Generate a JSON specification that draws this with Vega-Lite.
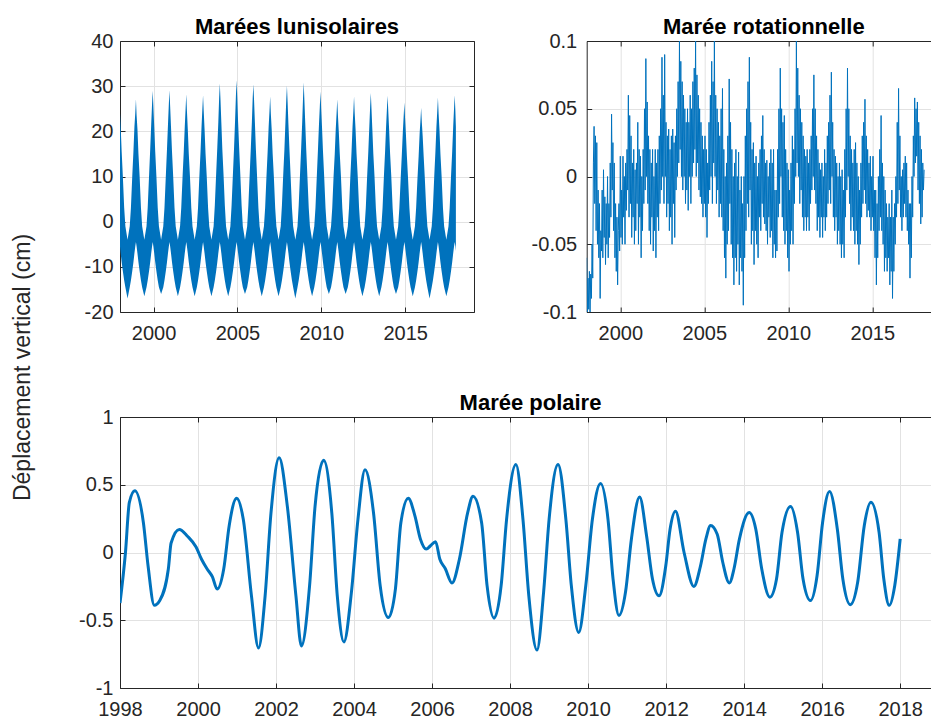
{
"$schema": "https://vega.github.io/schema/vega-lite/v6.json",
"background": "white",
"padding": {"left": 11, "top": 16, "right": 0, "bottom": 0},
"title": {"text": "Déplacement vertical (cm)", "orient": "left", "anchor": "middle", "fontSize": 23, "fontWeight": "normal", "color": "#262626", "offset": 44},
"config": {
 "font": "Liberation Sans",
 "view": {"stroke": null},
 "axis": {"labelFont": "Liberation Sans", "labelFontSize": 20, "labelColor": "#262626", "domainColor": "#262626", "domainWidth": 1, "tickColor": "#262626", "tickWidth": 1, "tickSize": -5, "gridColor": "#e2e2e2", "gridWidth": 1, "labelFlush": false, "labelOverlap": false},
 "axisX": {"labelPadding": 16},
 "axisY": {"labelPadding": 12},
 "title": {"font": "Liberation Sans", "fontSize": 22, "fontWeight": "bold", "color": "#000000", "offset": -8}
},
"datasets": {
"luni": [
{"t":1998.00,"lo":-5.5,"hi":24},{"t":1998.04,"lo":-7,"hi":21},{"t":1998.10,"lo":-9,"hi":15.5},{"t":1998.17,"lo":-11,"hi":10},{"t":1998.25,"lo":-13,"hi":3},{"t":1998.32,"lo":-14.5,"hi":-1},{"t":1998.45,"lo":-17,"hi":-4},
{"t":1998.58,"lo":-14.5,"hi":-1},{"t":1998.65,"lo":-13,"hi":3},{"t":1998.73,"lo":-11,"hi":10},{"t":1998.80,"lo":-9,"hi":15.5},{"t":1998.86,"lo":-7,"hi":21},{"t":1998.91,"lo":-5.5,"hi":24},{"t":1998.95,"lo":-4.5,"hi":27.1},{"t":1998.99,"lo":-5.5,"hi":23.5},{"t":1999.04,"lo":-7,"hi":20.5},{"t":1999.10,"lo":-9,"hi":15},{"t":1999.17,"lo":-11,"hi":10},{"t":1999.25,"lo":-13,"hi":3},{"t":1999.32,"lo":-14.5,"hi":-1},{"t":1999.45,"lo":-16.5,"hi":-4},
{"t":1999.58,"lo":-14.5,"hi":-1},{"t":1999.65,"lo":-13,"hi":3},{"t":1999.73,"lo":-11,"hi":10},{"t":1999.80,"lo":-9,"hi":16},{"t":1999.86,"lo":-7,"hi":21.5},{"t":1999.91,"lo":-5.5,"hi":26},{"t":1999.95,"lo":-4.5,"hi":29},{"t":1999.99,"lo":-5.5,"hi":25.5},{"t":2000.04,"lo":-7,"hi":21},{"t":2000.10,"lo":-9,"hi":15.5},{"t":2000.17,"lo":-11,"hi":10},{"t":2000.25,"lo":-13,"hi":3},{"t":2000.32,"lo":-14.5,"hi":-1},{"t":2000.45,"lo":-16,"hi":-4},
{"t":2000.58,"lo":-14.5,"hi":-1},{"t":2000.65,"lo":-13,"hi":3},{"t":2000.73,"lo":-11,"hi":10},{"t":2000.80,"lo":-9,"hi":16},{"t":2000.86,"lo":-7,"hi":21.5},{"t":2000.91,"lo":-5.5,"hi":26},{"t":2000.95,"lo":-4.5,"hi":29.1},{"t":2000.99,"lo":-5.5,"hi":25.5},{"t":2001.04,"lo":-7,"hi":21},{"t":2001.10,"lo":-9,"hi":15.5},{"t":2001.17,"lo":-11,"hi":10},{"t":2001.25,"lo":-13,"hi":3},{"t":2001.32,"lo":-14.5,"hi":-1},{"t":2001.45,"lo":-16.5,"hi":-4},
{"t":2001.58,"lo":-14.5,"hi":-1},{"t":2001.65,"lo":-13,"hi":3},{"t":2001.73,"lo":-11,"hi":10},{"t":2001.80,"lo":-9,"hi":15.5},{"t":2001.86,"lo":-7,"hi":21},{"t":2001.91,"lo":-5.5,"hi":25},{"t":2001.95,"lo":-4.5,"hi":28.2},{"t":2001.99,"lo":-5.5,"hi":24.5},{"t":2002.04,"lo":-7,"hi":20.5},{"t":2002.10,"lo":-9,"hi":15},{"t":2002.17,"lo":-11,"hi":10},{"t":2002.25,"lo":-13,"hi":3},{"t":2002.32,"lo":-14.5,"hi":-1},{"t":2002.45,"lo":-16.5,"hi":-4},
{"t":2002.58,"lo":-14.5,"hi":-1},{"t":2002.65,"lo":-13,"hi":3},{"t":2002.73,"lo":-11,"hi":10},{"t":2002.80,"lo":-9,"hi":15.5},{"t":2002.86,"lo":-7,"hi":21},{"t":2002.91,"lo":-5.5,"hi":25},{"t":2002.95,"lo":-4.5,"hi":28},{"t":2002.99,"lo":-5.5,"hi":24.5},{"t":2003.04,"lo":-7,"hi":20.5},{"t":2003.10,"lo":-9,"hi":15},{"t":2003.17,"lo":-11,"hi":10},{"t":2003.25,"lo":-13,"hi":3},{"t":2003.32,"lo":-14.5,"hi":-1},{"t":2003.45,"lo":-16.5,"hi":-4},
{"t":2003.58,"lo":-14.5,"hi":-1},{"t":2003.65,"lo":-13,"hi":3.5},{"t":2003.73,"lo":-11,"hi":10.5},{"t":2003.80,"lo":-9,"hi":16.5},{"t":2003.86,"lo":-7,"hi":22},{"t":2003.91,"lo":-5.5,"hi":27.5},{"t":2003.95,"lo":-4.5,"hi":30.6},{"t":2003.99,"lo":-5.5,"hi":27},{"t":2004.04,"lo":-7,"hi":22},{"t":2004.10,"lo":-9,"hi":16},{"t":2004.17,"lo":-11,"hi":10.5},{"t":2004.25,"lo":-13,"hi":3.5},{"t":2004.32,"lo":-14.5,"hi":-1},{"t":2004.45,"lo":-16.5,"hi":-4},
{"t":2004.58,"lo":-14.5,"hi":-1},{"t":2004.65,"lo":-13,"hi":3.5},{"t":2004.73,"lo":-11,"hi":10.5},{"t":2004.80,"lo":-9,"hi":16.5},{"t":2004.86,"lo":-7,"hi":22.5},{"t":2004.91,"lo":-5.5,"hi":28},{"t":2004.95,"lo":-4.5,"hi":31.3},{"t":2004.99,"lo":-5.5,"hi":27.5},{"t":2005.04,"lo":-7,"hi":22},{"t":2005.10,"lo":-9,"hi":16.5},{"t":2005.17,"lo":-11,"hi":10.5},{"t":2005.25,"lo":-13,"hi":3.5},{"t":2005.32,"lo":-14.5,"hi":-1},{"t":2005.45,"lo":-16,"hi":-4},
{"t":2005.58,"lo":-14.5,"hi":-1},{"t":2005.65,"lo":-13,"hi":3.5},{"t":2005.73,"lo":-11,"hi":10.5},{"t":2005.80,"lo":-9,"hi":16.5},{"t":2005.86,"lo":-7,"hi":22},{"t":2005.91,"lo":-5.5,"hi":27.5},{"t":2005.95,"lo":-4.5,"hi":30.4},{"t":2005.99,"lo":-5.5,"hi":27},{"t":2006.04,"lo":-7,"hi":22},{"t":2006.10,"lo":-9,"hi":16},{"t":2006.17,"lo":-11,"hi":10},{"t":2006.25,"lo":-13,"hi":3},{"t":2006.32,"lo":-14.5,"hi":-1},{"t":2006.45,"lo":-16.5,"hi":-4},
{"t":2006.58,"lo":-14.5,"hi":-1},{"t":2006.65,"lo":-13,"hi":3},{"t":2006.73,"lo":-11,"hi":10},{"t":2006.80,"lo":-9,"hi":15.5},{"t":2006.86,"lo":-7,"hi":21},{"t":2006.91,"lo":-5.5,"hi":24.5},{"t":2006.95,"lo":-4.5,"hi":27.7},{"t":2006.99,"lo":-5.5,"hi":24},{"t":2007.04,"lo":-7,"hi":20.5},{"t":2007.10,"lo":-9,"hi":15},{"t":2007.17,"lo":-11,"hi":10},{"t":2007.25,"lo":-13,"hi":3},{"t":2007.32,"lo":-14.5,"hi":-1},{"t":2007.45,"lo":-16.5,"hi":-4},
{"t":2007.58,"lo":-14.5,"hi":-1},{"t":2007.65,"lo":-13,"hi":3.5},{"t":2007.73,"lo":-11,"hi":10.5},{"t":2007.80,"lo":-9,"hi":16},{"t":2007.86,"lo":-7,"hi":22},{"t":2007.91,"lo":-5.5,"hi":27},{"t":2007.95,"lo":-4.5,"hi":30.1},{"t":2007.99,"lo":-5.5,"hi":26.5},{"t":2008.04,"lo":-7,"hi":21.5},{"t":2008.10,"lo":-9,"hi":16},{"t":2008.17,"lo":-11,"hi":10},{"t":2008.25,"lo":-13,"hi":3},{"t":2008.32,"lo":-14.5,"hi":-1},{"t":2008.45,"lo":-17,"hi":-4},
{"t":2008.58,"lo":-14.5,"hi":-1},{"t":2008.65,"lo":-13,"hi":3.5},{"t":2008.73,"lo":-11,"hi":10.5},{"t":2008.80,"lo":-9,"hi":16.5},{"t":2008.86,"lo":-7,"hi":22},{"t":2008.91,"lo":-5.5,"hi":27.5},{"t":2008.95,"lo":-4.5,"hi":30.8},{"t":2008.99,"lo":-5.5,"hi":27},{"t":2009.04,"lo":-7,"hi":22},{"t":2009.10,"lo":-9,"hi":16},{"t":2009.17,"lo":-11,"hi":10},{"t":2009.25,"lo":-13,"hi":3},{"t":2009.32,"lo":-14.5,"hi":-1},{"t":2009.45,"lo":-16.5,"hi":-4},
{"t":2009.58,"lo":-14.5,"hi":-1},{"t":2009.65,"lo":-13,"hi":3},{"t":2009.73,"lo":-11,"hi":10},{"t":2009.80,"lo":-9,"hi":16},{"t":2009.86,"lo":-7,"hi":21.5},{"t":2009.91,"lo":-5.5,"hi":25.5},{"t":2009.95,"lo":-4.5,"hi":28.8},{"t":2009.99,"lo":-5.5,"hi":25},{"t":2010.04,"lo":-7,"hi":21},{"t":2010.10,"lo":-9,"hi":15.5},{"t":2010.17,"lo":-11,"hi":10},{"t":2010.25,"lo":-13,"hi":3},{"t":2010.32,"lo":-14.5,"hi":-1},{"t":2010.45,"lo":-16,"hi":-4},
{"t":2010.58,"lo":-14.5,"hi":-1},{"t":2010.65,"lo":-13,"hi":3},{"t":2010.73,"lo":-11,"hi":10},{"t":2010.80,"lo":-9,"hi":15},{"t":2010.86,"lo":-7,"hi":20.5},{"t":2010.91,"lo":-5.5,"hi":24},{"t":2010.95,"lo":-4.5,"hi":27.1},{"t":2010.99,"lo":-5.5,"hi":23.5},{"t":2011.04,"lo":-7,"hi":20},{"t":2011.10,"lo":-9,"hi":15},{"t":2011.17,"lo":-11,"hi":10},{"t":2011.25,"lo":-13,"hi":3},{"t":2011.32,"lo":-14.5,"hi":-1},{"t":2011.45,"lo":-16,"hi":-4},
{"t":2011.58,"lo":-14.5,"hi":-1},{"t":2011.65,"lo":-13,"hi":3},{"t":2011.73,"lo":-11,"hi":10},{"t":2011.80,"lo":-9,"hi":15.5},{"t":2011.86,"lo":-7,"hi":21},{"t":2011.91,"lo":-5.5,"hi":24.5},{"t":2011.95,"lo":-4.5,"hi":27.7},{"t":2011.99,"lo":-5.5,"hi":24},{"t":2012.04,"lo":-7,"hi":20.5},{"t":2012.10,"lo":-9,"hi":15},{"t":2012.17,"lo":-11,"hi":10},{"t":2012.25,"lo":-13,"hi":3},{"t":2012.32,"lo":-14.5,"hi":-1},{"t":2012.45,"lo":-16.5,"hi":-4},
{"t":2012.58,"lo":-14.5,"hi":-1},{"t":2012.65,"lo":-13,"hi":3},{"t":2012.73,"lo":-11,"hi":10},{"t":2012.80,"lo":-9,"hi":15.5},{"t":2012.86,"lo":-7,"hi":21},{"t":2012.91,"lo":-5.5,"hi":25.5},{"t":2012.95,"lo":-4.5,"hi":28.5},{"t":2012.99,"lo":-5.5,"hi":25},{"t":2013.04,"lo":-7,"hi":20.5},{"t":2013.10,"lo":-9,"hi":15},{"t":2013.17,"lo":-11,"hi":10},{"t":2013.25,"lo":-13,"hi":3},{"t":2013.32,"lo":-14.5,"hi":-1},{"t":2013.45,"lo":-16.5,"hi":-4},
{"t":2013.58,"lo":-14.5,"hi":-1},{"t":2013.65,"lo":-13,"hi":3},{"t":2013.73,"lo":-11,"hi":10},{"t":2013.80,"lo":-9,"hi":15.5},{"t":2013.86,"lo":-7,"hi":21},{"t":2013.91,"lo":-5.5,"hi":25},{"t":2013.95,"lo":-4.5,"hi":27.9},{"t":2013.99,"lo":-5.5,"hi":24.5},{"t":2014.04,"lo":-7,"hi":20.5},{"t":2014.10,"lo":-9,"hi":15},{"t":2014.17,"lo":-11,"hi":10},{"t":2014.25,"lo":-13,"hi":3},{"t":2014.32,"lo":-14.5,"hi":-1},{"t":2014.45,"lo":-16,"hi":-4},
{"t":2014.58,"lo":-14.5,"hi":-1},{"t":2014.65,"lo":-13,"hi":3},{"t":2014.73,"lo":-11,"hi":9.5},{"t":2014.80,"lo":-9,"hi":15},{"t":2014.86,"lo":-7,"hi":20},{"t":2014.91,"lo":-5.5,"hi":23.5},{"t":2014.95,"lo":-4.5,"hi":26.4},{"t":2014.99,"lo":-5.5,"hi":23},{"t":2015.04,"lo":-7,"hi":19.5},{"t":2015.10,"lo":-9,"hi":14.5},{"t":2015.17,"lo":-11,"hi":9.5},{"t":2015.25,"lo":-13,"hi":3},{"t":2015.32,"lo":-14.5,"hi":-1},{"t":2015.45,"lo":-16.5,"hi":-4},
{"t":2015.58,"lo":-14.5,"hi":-1},{"t":2015.65,"lo":-13,"hi":3},{"t":2015.73,"lo":-11,"hi":9.5},{"t":2015.80,"lo":-9,"hi":14.5},{"t":2015.86,"lo":-7,"hi":19.5},{"t":2015.91,"lo":-5.5,"hi":22.5},{"t":2015.95,"lo":-4.5,"hi":25.2},{"t":2015.99,"lo":-5.5,"hi":22},{"t":2016.04,"lo":-7,"hi":19},{"t":2016.10,"lo":-9,"hi":14.5},{"t":2016.17,"lo":-11,"hi":9.5},{"t":2016.25,"lo":-13,"hi":3},{"t":2016.32,"lo":-14.5,"hi":-1},{"t":2016.45,"lo":-17,"hi":-4},
{"t":2016.58,"lo":-14.5,"hi":-1},{"t":2016.65,"lo":-13,"hi":3},{"t":2016.73,"lo":-11,"hi":10},{"t":2016.80,"lo":-9,"hi":15.5},{"t":2016.86,"lo":-7,"hi":21},{"t":2016.91,"lo":-5.5,"hi":24.5},{"t":2016.95,"lo":-4.5,"hi":27.5},{"t":2016.99,"lo":-5.5,"hi":24},{"t":2017.04,"lo":-7,"hi":20.5},{"t":2017.10,"lo":-9,"hi":15},{"t":2017.17,"lo":-11,"hi":10},{"t":2017.25,"lo":-13,"hi":3},{"t":2017.32,"lo":-14.5,"hi":-1},{"t":2017.45,"lo":-16.5,"hi":-4},
{"t":2017.58,"lo":-14.5,"hi":-1},{"t":2017.65,"lo":-13,"hi":3},{"t":2017.73,"lo":-11,"hi":10},{"t":2017.80,"lo":-9,"hi":15.5},{"t":2017.86,"lo":-7,"hi":21},{"t":2017.91,"lo":-5.5,"hi":25},{"t":2017.95,"lo":-4.5,"hi":28},{"t":2017.99,"lo":-5.5,"hi":24.5},{"t":2018.02,"lo":-6.5,"hi":21}
],
"rot": [
{"t":1998.00,"v":-0.06},{"t":1998.04,"v":-0.1},{"t":1998.08,"v":-0.075},{"t":1998.12,"v":-0.098},{"t":1998.16,"v":-0.07},{"t":1998.20,"v":-0.1},{"t":1998.24,"v":-0.072},{"t":1998.28,"v":-0.09},{"t":1998.32,"v":-0.05},{"t":1998.36,"v":-0.075},{"t":1998.40,"v":0.01},{"t":1998.44,"v":0.037},{"t":1998.48,"v":-0.02},{"t":1998.52,"v":0.03},{"t":1998.56,"v":-0.04},{"t":1998.60,"v":0.025},{"t":1998.64,"v":-0.05},{"t":1998.68,"v":-0.01},{"t":1998.72,"v":-0.06},{"t":1998.76,"v":-0.02},{"t":1998.80,"v":-0.09},{"t":1998.84,"v":-0.04},{"t":1998.88,"v":-0.055},{"t":1998.92,"v":-0.01},{"t":1998.96,"v":-0.06},
{"t":1999.00,"v":0.005},{"t":1999.04,"v":-0.045},{"t":1999.08,"v":-0.015},{"t":1999.12,"v":-0.065},{"t":1999.16,"v":-0.02},{"t":1999.20,"v":-0.05},{"t":1999.24,"v":0.0},{"t":1999.28,"v":-0.06},{"t":1999.32,"v":-0.02},{"t":1999.36,"v":-0.045},{"t":1999.40,"v":0.01},{"t":1999.44,"v":-0.03},{"t":1999.48,"v":0.046},{"t":1999.52,"v":-0.01},{"t":1999.56,"v":0.025},{"t":1999.60,"v":-0.04},{"t":1999.64,"v":0.01},{"t":1999.68,"v":-0.06},{"t":1999.72,"v":-0.02},{"t":1999.76,"v":-0.07},{"t":1999.80,"v":-0.03},{"t":1999.84,"v":-0.08},{"t":1999.88,"v":-0.04},{"t":1999.92,"v":-0.02},{"t":1999.96,"v":-0.055},
{"t":2000.00,"v":0.015},{"t":2000.04,"v":-0.045},{"t":2000.08,"v":-0.01},{"t":2000.12,"v":-0.05},{"t":2000.16,"v":0.015},{"t":2000.20,"v":-0.03},{"t":2000.24,"v":0.0},{"t":2000.28,"v":-0.05},{"t":2000.32,"v":0.01},{"t":2000.36,"v":-0.025},{"t":2000.40,"v":0.02},{"t":2000.44,"v":-0.01},{"t":2000.48,"v":0.06},{"t":2000.52,"v":-0.03},{"t":2000.56,"v":0.045},{"t":2000.60,"v":-0.02},{"t":2000.64,"v":0.03},{"t":2000.68,"v":-0.045},{"t":2000.72,"v":0.01},{"t":2000.76,"v":-0.03},{"t":2000.80,"v":0.02},{"t":2000.84,"v":-0.05},{"t":2000.88,"v":0.005},{"t":2000.92,"v":-0.04},{"t":2000.96,"v":0.01},
{"t":2001.00,"v":-0.02},{"t":2001.04,"v":0.04},{"t":2001.08,"v":-0.05},{"t":2001.12,"v":0.02},{"t":2001.16,"v":-0.03},{"t":2001.20,"v":0.015},{"t":2001.24,"v":-0.06},{"t":2001.28,"v":0.0},{"t":2001.32,"v":-0.04},{"t":2001.36,"v":0.02},{"t":2001.40,"v":-0.02},{"t":2001.44,"v":0.05},{"t":2001.48,"v":-0.01},{"t":2001.52,"v":0.087},{"t":2001.56,"v":0.0},{"t":2001.60,"v":0.055},{"t":2001.64,"v":-0.02},{"t":2001.68,"v":0.03},{"t":2001.72,"v":-0.04},{"t":2001.76,"v":0.02},{"t":2001.80,"v":-0.05},{"t":2001.84,"v":0.01},{"t":2001.88,"v":-0.03},{"t":2001.92,"v":0.02},{"t":2001.96,"v":-0.055},
{"t":2002.00,"v":0.0},{"t":2002.04,"v":-0.04},{"t":2002.08,"v":0.02},{"t":2002.12,"v":-0.06},{"t":2002.16,"v":0.01},{"t":2002.20,"v":-0.03},{"t":2002.24,"v":0.02},{"t":2002.28,"v":-0.04},{"t":2002.32,"v":0.03},{"t":2002.36,"v":-0.02},{"t":2002.40,"v":0.05},{"t":2002.44,"v":-0.01},{"t":2002.48,"v":0.088},{"t":2002.52,"v":0.0},{"t":2002.56,"v":0.06},{"t":2002.60,"v":-0.02},{"t":2002.64,"v":0.09},{"t":2002.68,"v":0.0},{"t":2002.72,"v":0.04},{"t":2002.76,"v":-0.03},{"t":2002.80,"v":0.03},{"t":2002.84,"v":-0.02},{"t":2002.88,"v":0.035},{"t":2002.92,"v":-0.04},{"t":2002.96,"v":0.02},
{"t":2003.00,"v":-0.03},{"t":2003.04,"v":0.03},{"t":2003.08,"v":-0.05},{"t":2003.12,"v":0.035},{"t":2003.16,"v":-0.02},{"t":2003.20,"v":0.025},{"t":2003.24,"v":-0.045},{"t":2003.28,"v":0.03},{"t":2003.32,"v":-0.01},{"t":2003.36,"v":0.05},{"t":2003.40,"v":0.0},{"t":2003.44,"v":0.07},{"t":2003.48,"v":0.01},{"t":2003.52,"v":0.1},{"t":2003.56,"v":0.02},{"t":2003.60,"v":0.085},{"t":2003.64,"v":0.0},{"t":2003.68,"v":0.07},{"t":2003.72,"v":-0.01},{"t":2003.76,"v":0.06},{"t":2003.80,"v":0.0},{"t":2003.84,"v":0.05},{"t":2003.88,"v":-0.02},{"t":2003.92,"v":0.04},{"t":2003.96,"v":-0.01},
{"t":2004.00,"v":0.05},{"t":2004.04,"v":-0.025},{"t":2004.08,"v":0.04},{"t":2004.12,"v":0.0},{"t":2004.16,"v":0.06},{"t":2004.20,"v":-0.02},{"t":2004.24,"v":0.05},{"t":2004.28,"v":0.0},{"t":2004.32,"v":0.07},{"t":2004.36,"v":0.01},{"t":2004.40,"v":0.08},{"t":2004.44,"v":0.02},{"t":2004.48,"v":0.1},{"t":2004.52,"v":0.0},{"t":2004.56,"v":0.075},{"t":2004.60,"v":0.01},{"t":2004.64,"v":0.06},{"t":2004.68,"v":-0.01},{"t":2004.72,"v":0.05},{"t":2004.76,"v":-0.015},{"t":2004.80,"v":0.04},{"t":2004.84,"v":-0.02},{"t":2004.88,"v":0.03},{"t":2004.92,"v":-0.03},{"t":2004.96,"v":0.02},
{"t":2005.00,"v":-0.02},{"t":2005.04,"v":0.03},{"t":2005.08,"v":-0.03},{"t":2005.12,"v":0.02},{"t":2005.16,"v":-0.045},{"t":2005.20,"v":0.01},{"t":2005.24,"v":-0.02},{"t":2005.28,"v":0.04},{"t":2005.32,"v":-0.01},{"t":2005.36,"v":0.06},{"t":2005.40,"v":0.0},{"t":2005.44,"v":0.085},{"t":2005.48,"v":-0.02},{"t":2005.52,"v":0.07},{"t":2005.56,"v":0.01},{"t":2005.60,"v":0.1},{"t":2005.64,"v":0.0},{"t":2005.68,"v":0.06},{"t":2005.72,"v":-0.02},{"t":2005.76,"v":0.05},{"t":2005.80,"v":-0.01},{"t":2005.84,"v":0.04},{"t":2005.88,"v":-0.03},{"t":2005.92,"v":0.03},{"t":2005.96,"v":-0.02},
{"t":2006.00,"v":0.05},{"t":2006.04,"v":-0.03},{"t":2006.08,"v":0.065},{"t":2006.12,"v":-0.04},{"t":2006.16,"v":0.02},{"t":2006.20,"v":-0.06},{"t":2006.24,"v":0.0},{"t":2006.28,"v":-0.075},{"t":2006.32,"v":0.01},{"t":2006.36,"v":-0.05},{"t":2006.40,"v":0.03},{"t":2006.44,"v":-0.04},{"t":2006.48,"v":0.072},{"t":2006.52,"v":-0.02},{"t":2006.56,"v":0.04},{"t":2006.60,"v":-0.05},{"t":2006.64,"v":0.02},{"t":2006.68,"v":-0.06},{"t":2006.72,"v":0.0},{"t":2006.76,"v":-0.08},{"t":2006.80,"v":0.01},{"t":2006.84,"v":-0.06},{"t":2006.88,"v":0.02},{"t":2006.92,"v":-0.07},{"t":2006.96,"v":0.0},
{"t":2007.00,"v":-0.05},{"t":2007.04,"v":0.018},{"t":2007.08,"v":-0.08},{"t":2007.12,"v":-0.01},{"t":2007.16,"v":-0.06},{"t":2007.20,"v":0.0},{"t":2007.24,"v":-0.07},{"t":2007.28,"v":-0.02},{"t":2007.32,"v":-0.095},{"t":2007.36,"v":0.0},{"t":2007.40,"v":-0.06},{"t":2007.44,"v":0.03},{"t":2007.48,"v":-0.04},{"t":2007.52,"v":0.05},{"t":2007.56,"v":-0.02},{"t":2007.60,"v":0.07},{"t":2007.64,"v":-0.03},{"t":2007.68,"v":0.088},{"t":2007.72,"v":-0.01},{"t":2007.76,"v":0.04},{"t":2007.80,"v":-0.05},{"t":2007.84,"v":0.02},{"t":2007.88,"v":-0.04},{"t":2007.92,"v":0.025},{"t":2007.96,"v":-0.065},
{"t":2008.00,"v":0.01},{"t":2008.04,"v":-0.04},{"t":2008.08,"v":0.015},{"t":2008.12,"v":-0.05},{"t":2008.16,"v":0.0},{"t":2008.20,"v":-0.06},{"t":2008.24,"v":0.01},{"t":2008.28,"v":-0.03},{"t":2008.32,"v":0.02},{"t":2008.36,"v":-0.04},{"t":2008.40,"v":0.03},{"t":2008.44,"v":-0.02},{"t":2008.48,"v":0.045},{"t":2008.52,"v":-0.03},{"t":2008.56,"v":0.02},{"t":2008.60,"v":-0.035},{"t":2008.64,"v":0.01},{"t":2008.68,"v":-0.04},{"t":2008.72,"v":0.012},{"t":2008.76,"v":-0.05},{"t":2008.80,"v":0.0},{"t":2008.84,"v":-0.03},{"t":2008.88,"v":0.01},{"t":2008.92,"v":-0.045},{"t":2008.96,"v":0.02},
{"t":2009.00,"v":-0.04},{"t":2009.04,"v":0.01},{"t":2009.08,"v":-0.06},{"t":2009.12,"v":0.02},{"t":2009.16,"v":-0.05},{"t":2009.20,"v":-0.01},{"t":2009.24,"v":-0.06},{"t":2009.28,"v":-0.01},{"t":2009.32,"v":-0.055},{"t":2009.36,"v":0.02},{"t":2009.40,"v":-0.03},{"t":2009.44,"v":0.05},{"t":2009.48,"v":-0.02},{"t":2009.52,"v":0.08},{"t":2009.56,"v":0.0},{"t":2009.60,"v":0.05},{"t":2009.64,"v":-0.03},{"t":2009.68,"v":0.04},{"t":2009.72,"v":-0.04},{"t":2009.76,"v":0.045},{"t":2009.80,"v":-0.05},{"t":2009.84,"v":0.02},{"t":2009.88,"v":-0.04},{"t":2009.92,"v":0.01},{"t":2009.96,"v":-0.06},
{"t":2010.00,"v":0.005},{"t":2010.04,"v":-0.07},{"t":2010.08,"v":-0.01},{"t":2010.12,"v":-0.05},{"t":2010.16,"v":0.01},{"t":2010.20,"v":-0.04},{"t":2010.24,"v":0.03},{"t":2010.28,"v":-0.05},{"t":2010.32,"v":0.02},{"t":2010.36,"v":-0.02},{"t":2010.40,"v":0.05},{"t":2010.44,"v":0.0},{"t":2010.48,"v":0.1},{"t":2010.52,"v":0.01},{"t":2010.56,"v":0.08},{"t":2010.60,"v":0.0},{"t":2010.64,"v":0.06},{"t":2010.68,"v":-0.02},{"t":2010.72,"v":0.05},{"t":2010.76,"v":-0.01},{"t":2010.80,"v":0.04},{"t":2010.84,"v":-0.03},{"t":2010.88,"v":0.03},{"t":2010.92,"v":-0.04},{"t":2010.96,"v":0.02},
{"t":2011.00,"v":-0.03},{"t":2011.04,"v":0.015},{"t":2011.08,"v":-0.04},{"t":2011.12,"v":0.02},{"t":2011.16,"v":-0.03},{"t":2011.20,"v":0.01},{"t":2011.24,"v":-0.04},{"t":2011.28,"v":0.02},{"t":2011.32,"v":-0.02},{"t":2011.36,"v":0.03},{"t":2011.40,"v":-0.01},{"t":2011.44,"v":0.05},{"t":2011.48,"v":0.0},{"t":2011.52,"v":0.075},{"t":2011.56,"v":-0.01},{"t":2011.60,"v":0.05},{"t":2011.64,"v":-0.02},{"t":2011.68,"v":0.03},{"t":2011.72,"v":-0.04},{"t":2011.76,"v":0.02},{"t":2011.80,"v":-0.03},{"t":2011.84,"v":0.01},{"t":2011.88,"v":-0.045},{"t":2011.92,"v":0.005},{"t":2011.96,"v":-0.03},
{"t":2012.00,"v":0.01},{"t":2012.04,"v":-0.045},{"t":2012.08,"v":0.0},{"t":2012.12,"v":-0.03},{"t":2012.16,"v":0.02},{"t":2012.20,"v":-0.04},{"t":2012.24,"v":0.01},{"t":2012.28,"v":-0.03},{"t":2012.32,"v":0.03},{"t":2012.36,"v":-0.02},{"t":2012.40,"v":0.04},{"t":2012.44,"v":-0.01},{"t":2012.48,"v":0.06},{"t":2012.52,"v":-0.02},{"t":2012.56,"v":0.077},{"t":2012.60,"v":0.0},{"t":2012.64,"v":0.04},{"t":2012.68,"v":-0.03},{"t":2012.72,"v":0.02},{"t":2012.76,"v":-0.04},{"t":2012.80,"v":0.015},{"t":2012.84,"v":-0.03},{"t":2012.88,"v":0.01},{"t":2012.92,"v":-0.05},{"t":2012.96,"v":0.0},
{"t":2013.00,"v":-0.04},{"t":2013.04,"v":0.01},{"t":2013.08,"v":-0.05},{"t":2013.12,"v":0.0},{"t":2013.16,"v":-0.06},{"t":2013.20,"v":0.005},{"t":2013.24,"v":-0.05},{"t":2013.28,"v":-0.01},{"t":2013.32,"v":-0.06},{"t":2013.36,"v":0.02},{"t":2013.40,"v":-0.03},{"t":2013.44,"v":0.05},{"t":2013.48,"v":-0.01},{"t":2013.52,"v":0.08},{"t":2013.56,"v":0.0},{"t":2013.60,"v":0.05},{"t":2013.64,"v":-0.02},{"t":2013.68,"v":0.03},{"t":2013.72,"v":-0.04},{"t":2013.76,"v":0.02},{"t":2013.80,"v":-0.03},{"t":2013.84,"v":0.01},{"t":2013.88,"v":-0.04},{"t":2013.92,"v":0.02},{"t":2013.96,"v":-0.05},
{"t":2014.00,"v":0.025},{"t":2014.04,"v":-0.04},{"t":2014.08,"v":0.01},{"t":2014.12,"v":-0.05},{"t":2014.16,"v":0.0},{"t":2014.20,"v":-0.065},{"t":2014.24,"v":-0.01},{"t":2014.28,"v":-0.05},{"t":2014.32,"v":0.01},{"t":2014.36,"v":-0.03},{"t":2014.40,"v":0.03},{"t":2014.44,"v":-0.02},{"t":2014.48,"v":0.04},{"t":2014.52,"v":-0.01},{"t":2014.56,"v":0.057},{"t":2014.60,"v":-0.02},{"t":2014.64,"v":0.03},{"t":2014.68,"v":-0.03},{"t":2014.72,"v":0.02},{"t":2014.76,"v":-0.025},{"t":2014.80,"v":0.01},{"t":2014.84,"v":-0.03},{"t":2014.88,"v":0.015},{"t":2014.92,"v":-0.04},{"t":2014.96,"v":0.0},
{"t":2015.00,"v":-0.03},{"t":2015.04,"v":0.015},{"t":2015.08,"v":-0.04},{"t":2015.12,"v":-0.01},{"t":2015.16,"v":-0.06},{"t":2015.20,"v":-0.01},{"t":2015.24,"v":-0.08},{"t":2015.28,"v":-0.02},{"t":2015.32,"v":-0.06},{"t":2015.36,"v":0.0},{"t":2015.40,"v":-0.04},{"t":2015.44,"v":0.02},{"t":2015.48,"v":-0.03},{"t":2015.52,"v":0.045},{"t":2015.56,"v":-0.04},{"t":2015.60,"v":0.01},{"t":2015.64,"v":-0.05},{"t":2015.68,"v":0.0},{"t":2015.72,"v":-0.07},{"t":2015.76,"v":-0.01},{"t":2015.80,"v":-0.06},{"t":2015.84,"v":-0.02},{"t":2015.88,"v":-0.07},{"t":2015.92,"v":-0.03},{"t":2015.96,"v":-0.06},
{"t":2016.00,"v":-0.02},{"t":2016.04,"v":-0.08},{"t":2016.08,"v":-0.03},{"t":2016.12,"v":-0.07},{"t":2016.16,"v":-0.01},{"t":2016.20,"v":-0.09},{"t":2016.24,"v":-0.03},{"t":2016.28,"v":-0.07},{"t":2016.32,"v":-0.02},{"t":2016.36,"v":-0.05},{"t":2016.40,"v":0.0},{"t":2016.44,"v":-0.03},{"t":2016.48,"v":0.04},{"t":2016.52,"v":-0.02},{"t":2016.56,"v":0.065},{"t":2016.60,"v":-0.01},{"t":2016.64,"v":0.03},{"t":2016.68,"v":-0.03},{"t":2016.72,"v":0.0},{"t":2016.76,"v":-0.04},{"t":2016.80,"v":0.005},{"t":2016.84,"v":-0.03},{"t":2016.88,"v":0.01},{"t":2016.92,"v":-0.02},{"t":2016.96,"v":0.015},
{"t":2017.00,"v":-0.03},{"t":2017.04,"v":0.01},{"t":2017.08,"v":-0.04},{"t":2017.12,"v":-0.01},{"t":2017.16,"v":-0.05},{"t":2017.20,"v":-0.02},{"t":2017.24,"v":-0.075},{"t":2017.28,"v":-0.02},{"t":2017.32,"v":-0.06},{"t":2017.36,"v":0.0},{"t":2017.40,"v":-0.03},{"t":2017.44,"v":0.03},{"t":2017.48,"v":0.0},{"t":2017.52,"v":0.058},{"t":2017.56,"v":0.01},{"t":2017.60,"v":0.05},{"t":2017.64,"v":0.015},{"t":2017.68,"v":0.055},{"t":2017.72,"v":-0.01},{"t":2017.76,"v":0.04},{"t":2017.80,"v":-0.02},{"t":2017.84,"v":0.03},{"t":2017.88,"v":-0.035},{"t":2017.92,"v":0.02},{"t":2017.96,"v":-0.03},
{"t":2018.00,"v":0.01},{"t":2018.04,"v":-0.01},{"t":2018.08,"v":0.005}
],
"pol": [
{"t":1998.00,"v":-0.373},{"t":1998.14,"v":0.0},{"t":1998.24,"v":0.37},{"t":1998.38,"v":0.455},{"t":1998.60,"v":0.22},{"t":1998.72,"v":-0.1},{"t":1998.88,"v":-0.39},{"t":1999.02,"v":-0.355},{"t":1999.24,"v":-0.12},{"t":1999.31,"v":0.07},{"t":1999.52,"v":0.17},{"t":1999.73,"v":0.12},{"t":1999.95,"v":0.04},{"t":2000.09,"v":-0.05},{"t":2000.23,"v":-0.12},{"t":2000.37,"v":-0.18},{"t":2000.49,"v":-0.27},{"t":2000.66,"v":-0.12},{"t":2000.80,"v":0.2},{"t":2000.99,"v":0.4},{"t":2001.16,"v":0.245},{"t":2001.37,"v":-0.32},{"t":2001.55,"v":-0.705},{"t":2001.72,"v":-0.32},{"t":2001.87,"v":0.29},{"t":2002.08,"v":0.7},{"t":2002.29,"v":0.34},{"t":2002.51,"v":-0.32},{"t":2002.65,"v":-0.69},{"t":2002.86,"v":-0.245},{"t":2003.00,"v":0.34},{"t":2003.22,"v":0.68},{"t":2003.43,"v":0.29},{"t":2003.57,"v":-0.32},{"t":2003.74,"v":-0.66},{"t":2003.93,"v":-0.3},{"t":2004.10,"v":0.245},{"t":2004.28,"v":0.61},{"t":2004.50,"v":0.29},{"t":2004.67,"v":-0.245},{"t":2004.88,"v":-0.48},{"t":2005.06,"v":-0.27},{"t":2005.20,"v":0.22},{"t":2005.39,"v":0.4},{"t":2005.56,"v":0.27},{"t":2005.70,"v":0.1},{"t":2005.85,"v":0.025},{"t":2005.96,"v":0.05},{"t":2006.09,"v":0.08},{"t":2006.20,"v":-0.05},{"t":2006.34,"v":-0.12},{"t":2006.51,"v":-0.225},{"t":2006.70,"v":-0.05},{"t":2006.91,"v":0.29},{"t":2007.05,"v":0.415},{"t":2007.27,"v":0.22},{"t":2007.41,"v":-0.245},{"t":2007.59,"v":-0.485},{"t":2007.77,"v":-0.245},{"t":2007.91,"v":0.245},{"t":2008.15,"v":0.65},{"t":2008.33,"v":0.245},{"t":2008.48,"v":-0.32},{"t":2008.69,"v":-0.72},{"t":2008.86,"v":-0.29},{"t":2009.00,"v":0.245},{"t":2009.23,"v":0.65},{"t":2009.43,"v":0.245},{"t":2009.57,"v":-0.245},{"t":2009.76,"v":-0.59},{"t":2009.94,"v":-0.245},{"t":2010.11,"v":0.245},{"t":2010.32,"v":0.51},{"t":2010.51,"v":0.245},{"t":2010.64,"v":-0.196},{"t":2010.79,"v":-0.465},{"t":2010.96,"v":-0.29},{"t":2011.11,"v":0.1},{"t":2011.32,"v":0.41},{"t":2011.50,"v":0.12},{"t":2011.65,"v":-0.196},{"t":2011.82,"v":-0.32},{"t":2011.99,"v":-0.1},{"t":2012.10,"v":0.17},{"t":2012.24,"v":0.305},{"t":2012.46,"v":0.0},{"t":2012.71,"v":-0.25},{"t":2012.88,"v":-0.1},{"t":2013.02,"v":0.1},{"t":2013.14,"v":0.2},{"t":2013.31,"v":0.135},{"t":2013.45,"v":-0.07},{"t":2013.62,"v":-0.225},{"t":2013.74,"v":-0.12},{"t":2013.88,"v":0.1},{"t":2014.13,"v":0.295},{"t":2014.30,"v":0.17},{"t":2014.45,"v":-0.12},{"t":2014.66,"v":-0.33},{"t":2014.83,"v":-0.196},{"t":2014.97,"v":0.147},{"t":2015.19,"v":0.34},{"t":2015.37,"v":0.147},{"t":2015.51,"v":-0.196},{"t":2015.70,"v":-0.355},{"t":2015.87,"v":-0.17},{"t":2016.01,"v":0.22},{"t":2016.19,"v":0.45},{"t":2016.39,"v":0.17},{"t":2016.53,"v":-0.196},{"t":2016.72,"v":-0.385},{"t":2016.91,"v":-0.22},{"t":2017.08,"v":0.2},{"t":2017.25,"v":0.37},{"t":2017.46,"v":0.147},{"t":2017.58,"v":-0.196},{"t":2017.72,"v":-0.39},{"t":2017.86,"v":-0.245},{"t":2018.00,"v":0.1}
]
},
"spacing": 49,
"bounds": "full",
"vconcat": [
 {
  "spacing": 112.7,
  "bounds": "flush",
  "hconcat": [
   {
    "width": 354, "height": 271,
    "title": {"text": "Marées lunisolaires"},
    "layer": [
     {"data": {"name": "luni"}, "mark": {"type": "area", "color": "#0072BD", "clip": true},
      "encoding": {
       "x": {"field": "t", "type": "quantitative", "scale": {"domain": [1998, 2019.1], "nice": false, "zero": false}, "axis": {"orient": "bottom", "values": [2000, 2005, 2010, 2015], "format": "d", "grid": true, "title": null}},
       "y": {"field": "lo", "type": "quantitative", "scale": {"domain": [-20, 40], "nice": false, "zero": false}, "axis": {"orient": "left", "values": [-20, -10, 0, 10, 20, 30, 40], "format": "d", "labelExpr": "replace(datum.label, '−', '-')", "grid": true, "title": null}},
       "y2": {"field": "hi"}
      }},
     {"data": {"values": [{"t": 2000, "v": 0}]}, "mark": {"type": "point", "opacity": 0},
      "encoding": {
       "x": {"field": "t", "type": "quantitative", "scale": {"domain": [1998, 2019.1], "nice": false, "zero": false}, "axis": {"orient": "top", "values": [2000, 2005, 2010, 2015], "labels": false, "grid": false, "title": null}},
       "y": {"field": "v", "type": "quantitative", "scale": {"domain": [-20, 40], "nice": false, "zero": false}, "axis": {"orient": "right", "values": [-20, -10, 0, 10, 20, 30, 40], "labels": false, "grid": false, "title": null}}
      }}
    ],
    "resolve": {"axis": {"x": "independent", "y": "independent"}}
   },
   {
    "width": 344.3, "height": 271,
    "title": {"text": "Marée rotationnelle", "dx": 5},
    "layer": [
     {"data": {"name": "rot"}, "mark": {"type": "line", "color": "#0072BD", "strokeWidth": 1, "clip": true},
      "encoding": {
       "x": {"field": "t", "type": "quantitative", "scale": {"domain": [1998, 2018.49], "nice": false, "zero": false}, "axis": {"orient": "bottom", "values": [2000, 2005, 2010, 2015], "format": "d", "grid": true, "title": null}},
       "y": {"field": "v", "type": "quantitative", "scale": {"domain": [-0.1, 0.1], "nice": false, "zero": false}, "axis": {"orient": "left", "values": [-0.1, -0.05, 0, 0.05, 0.1], "format": "~g", "labelExpr": "replace(datum.label, '−', '-')", "labelPadding": 15, "grid": true, "title": null}}
      }},
     {"data": {"values": [{"t": 2000}]}, "mark": {"type": "point", "opacity": 0},
      "encoding": {
       "x": {"field": "t", "type": "quantitative", "scale": {"domain": [1998, 2018.49], "nice": false, "zero": false}, "axis": {"orient": "top", "values": [2000, 2005, 2010, 2015], "labels": false, "grid": false, "title": null}}
      }}
    ],
    "resolve": {"axis": {"x": "independent"}}
   }
  ]
 },
 {
  "width": 811, "height": 271,
  "title": {"text": "Marée polaire", "dx": 5},
  "layer": [
   {"data": {"name": "pol"}, "mark": {"type": "line", "color": "#0072BD", "strokeWidth": 3, "interpolate": "monotone", "clip": true},
    "encoding": {
     "x": {"field": "t", "type": "quantitative", "scale": {"domain": [1998, 2018.79], "nice": false, "zero": false}, "axis": {"orient": "bottom", "values": [1998, 2000, 2002, 2004, 2006, 2008, 2010, 2012, 2014, 2016, 2018], "format": "d", "grid": true, "title": null}},
     "y": {"field": "v", "type": "quantitative", "scale": {"domain": [-1, 1], "nice": false, "zero": false}, "axis": {"orient": "left", "values": [-1, -0.5, 0, 0.5, 1], "format": "~g", "labelExpr": "replace(datum.label, '−', '-')", "grid": true, "title": null}}
    }},
   {"data": {"values": [{"t": 2000}]}, "mark": {"type": "point", "opacity": 0},
    "encoding": {
     "x": {"field": "t", "type": "quantitative", "scale": {"domain": [1998, 2018.79], "nice": false, "zero": false}, "axis": {"orient": "top", "values": [1998, 2000, 2002, 2004, 2006, 2008, 2010, 2012, 2014, 2016, 2018], "labels": false, "grid": false, "title": null}}
    }}
  ],
  "resolve": {"axis": {"x": "independent"}}
 }
]
}
